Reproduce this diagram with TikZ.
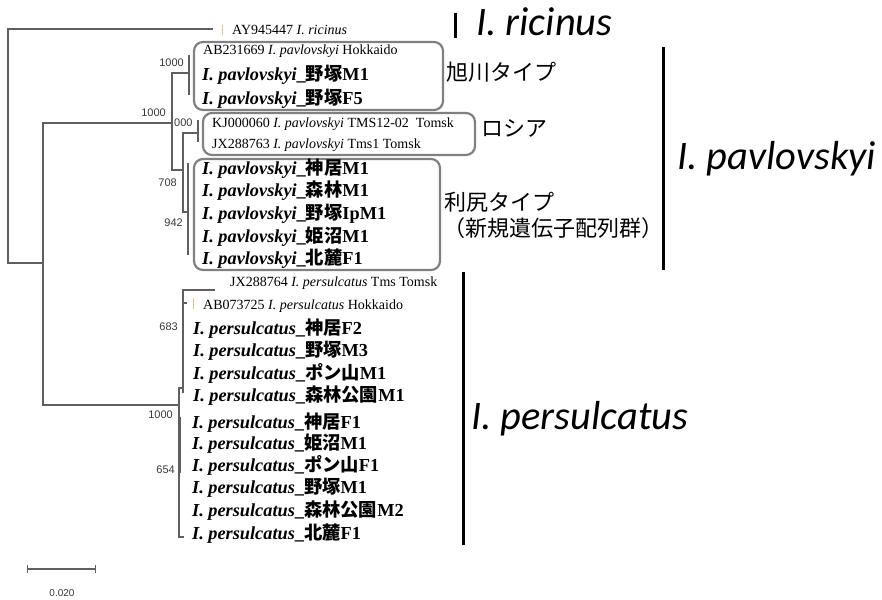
\documentclass[tikz,border=0pt]{standalone}
\usepackage{fontspec}
\setmainfont{Liberation Serif}
\newfontfamily\cjk{Noto Sans CJK JP}
\newfontfamily\cali{Carlito}
\newfontfamily\arial{Liberation Sans}
\definecolor{treegray}{RGB}{95,95,95}
\definecolor{boxgray}{RGB}{128,128,128}
\definecolor{tickcol}{RGB}{225,195,140}
\definecolor{bsgray}{RGB}{55,55,55}
\newcommand\pv[2]{\textit{I. pavlovskyi}\_{\cjk\bfseries #1}#2}
\newcommand\ps[2]{\textit{I. persulcatus}\_{\cjk\bfseries #1}#2}
\begin{document}
\begin{tikzpicture}[x=1pt,y=-1pt,
 br/.style={draw=treegray, line width=1.5pt},
 grp/.style={draw=boxgray, line width=2.2pt, rounded corners=9pt, inner sep=0pt},
 acc/.style={anchor=base west, inner sep=0pt, font=\fontsize{14}{16}\selectfont},
 tax/.style={anchor=base west, inner sep=0pt, font=\fontsize{18.3}{20}\selectfont\bfseries},
 bs/.style={anchor=east, inner sep=0pt, font=\arial\fontsize{11}{12}\selectfont, text=bsgray},
 jp/.style={anchor=west, inner sep=0pt, font=\cjk\fontsize{22}{24}\selectfont},
 big/.style={anchor=base west, inner sep=0pt, font=\cali\itshape\fontsize{40.5}{42}\selectfont},
 bar/.style={line width=3pt, draw=black},
 tk/.style={draw=tickcol, line width=1pt}]
\useasboundingbox (0,0) rectangle (882,599);

% ---------- tree ----------
\coordinate (root) at (8,263);
\coordinate (ing) at (43,263);
\coordinate (pav) at (172,123);
\coordinate (per) at (179,405);
\draw[br] (213,29) -- (8,29) -- (root) -- (ing);
\draw[br] (pav) -- (43,123) -- (43,405) -- (per);
% pavlovskyi clade
\draw[br] (189,73) -- (172,73) -- (172,170) -- (183,170);
\draw[br] (189,55) -- (189,95);
\draw[br] (198,133) -- (183,133) -- (183,212) -- (188,212);
\draw[br] (198,120) -- (198,142);
\draw[br] (188,163) -- (188,255);
% persulcatus clade
\draw[br] (215,290) -- (183,290) -- (183,393);
\draw[br] (183,303) -- (187,303);
\draw[br] (183,388) -- (179,388) -- (179,537) -- (184,537);
\draw[draw=treegray, line width=2.6pt] (180,417) -- (180,473);
\draw[tk] (222,25) -- (222,35);
\draw[tk] (193,298) -- (193,309);

% bootstrap values
\node[bs] (b1) at (184,63) {1000};
\node[bs] (b2) at (166,113) {1000};
\node[bs, anchor=west] (b3) at (174,123) {000};
\node[bs] (b4) at (177,183) {708};
\node[bs] (b5) at (183,223) {942};
\node[bs] (b6) at (178,327) {683};
\node[bs] (b7) at (173,415) {1000};
\node[bs] (b8) at (175,470) {654};

% group boxes
\node[grp, minimum width=249pt, minimum height=68pt] (asabox) at (318.5,76) {};
\node[grp, minimum width=272pt, minimum height=42pt] (tomskbox) at (339,134) {};
\node[grp, minimum width=246pt, minimum height=111pt] (ribox) at (317,214.5) {};

% taxa
\node[acc] (t1) at (232,34.6) {AY945447 \textit{I. ricinus}};
\node[acc] (t2) at (203,54.6) {AB231669 \textit{I. pavlovskyi} Hokkaido};
\node[tax] (t3) at (202,81) {\pv{野塚}{M1}};
\node[tax] (t4) at (202,104) {\pv{野塚}{F5}};
\node[acc] (t5) at (212,127.6) {KJ000060 \textit{I. pavlovskyi} TMS12-02\ \ Tomsk};
\node[acc] (t6) at (212,148.6) {JX288763 \textit{I. pavlovskyi} Tms1 Tomsk};
\node[tax] (t7) at (202,174) {\pv{神居}{M1}};
\node[tax] (t8) at (202,196) {\pv{森林}{M1}};
\node[tax] (t9) at (202,219) {\pv{野塚}{IpM1}};
\node[tax] (t10) at (202,242) {\pv{姫沼}{M1}};
\node[tax] (t11) at (202,264) {\pv{北麓}{F1}};
\node[acc] (t12) at (230,286.6) {JX288764 \textit{I. persulcatus} Tms Tomsk};
\node[acc] (t13) at (203,309.6) {AB073725 \textit{I. persulcatus} Hokkaido};
\node[tax] (t14) at (193,334) {\ps{神居}{F2}};
\node[tax] (t15) at (193,356) {\ps{野塚}{M3}};
\node[tax] (t16) at (193,379) {\ps{ポン山}{M1}};
\node[tax] (t17) at (193,401) {\ps{森林公園}{M1}};
\node[tax] (t18) at (192,428) {\ps{神居}{F1}};
\node[tax] (t19) at (192,449) {\ps{姫沼}{M1}};
\node[tax] (t20) at (192,471) {\ps{ポン山}{F1}};
\node[tax] (t21) at (192,493) {\ps{野塚}{M1}};
\node[tax] (t22) at (192,516) {\ps{森林公園}{M2}};
\node[tax] (t23) at (192,539) {\ps{北麓}{F1}};

% group labels
\node[jp] (j1) at (446,72) {旭川タイプ};
\node[jp] (j2) at (481,128) {ロシア};
\node[jp] (j3) at (444,202) {利尻タイプ};
\node[jp] (j4) at (443,228) {（新規遺伝子配列群）};

% species bars and names
\coordinate (ra) at (455,13); \coordinate (rb) at (455,38);
\draw[bar] (ra) -- (rb);
\coordinate (pa) at (663,47); \coordinate (pb) at (663,270);
\draw[bar] (pa) -- (pb);
\coordinate (qa) at (463,272); \coordinate (qb) at (463,545);
\draw[bar] (qa) -- (qb);
\node[big] (n1) at (476,36) {I. ricinus};
\node[big] (n2) at (677,169) {I. pavlovskyi};
\node[big] (n3) at (471,429) {I. persulcatus};

% scale bar
\coordinate (s1) at (27,569); \coordinate (s2) at (95,569);
\draw[treegray, line width=1.3pt] (s1) -- (s2);
\draw[treegray, line width=1pt] (27,565) -- (27,573) (95,565) -- (95,573);
\node[anchor=center, inner sep=0pt, font=\arial\fontsize{10}{12}\selectfont, text=bsgray] (sl) at (62,593) {0.020};
\end{tikzpicture}
\end{document}
